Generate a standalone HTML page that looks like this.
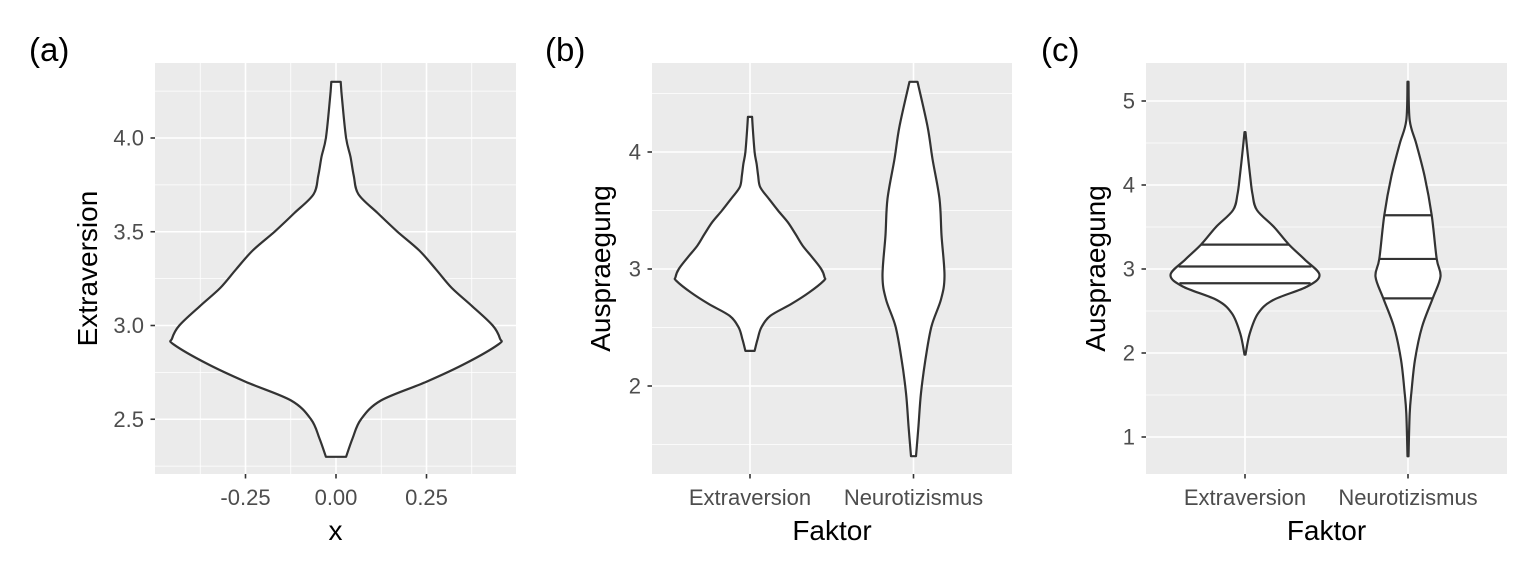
<!DOCTYPE html>
<html><head><meta charset="utf-8"><style>
body{margin:0;background:#fff;}
svg{display:block;font-family:"Liberation Sans",sans-serif;}
</style></head><body>
<svg id="s" width="1536" height="576" viewBox="0 0 1536 576"></svg>
<script>
// Panel (a): Extraversion violin
const aY=[4.3,4.2,4.0,3.9,3.8,3.7,3.6,3.5,3.4,3.3,3.2,3.1,3.0,2.93,2.9,2.8,2.7,2.6,2.5,2.4,2.3];
const aW=[0.013,0.017,0.028,0.04,0.049,0.062,0.115,0.17,0.23,0.276,0.32,0.378,0.433,0.453,0.449,0.36,0.25,0.124,0.069,0.046,0.028];
const aXTicks=[-0.25,0,0.25];
const aXLabels=["-0.25","0.00","0.25"];
const aYTicks=[2.5,3.0,3.5,4.0];
const aYLabels=["2.5","3.0","3.5","4.0"];
// Panel (b)
const categories=["Extraversion","Neurotizismus"];
const bNeuroY=[4.6,4.22,3.94,3.6,3.29,2.94,2.74,2.51,2.23,1.94,1.66,1.4];
const bNeuroPx=[4,14,19,26,28,31,27.5,18,12,7.5,5,2.5];
const bYTicks=[2,3,4];
// Panel (c)
const cExtY=[4.63,4.37,4.09,3.89,3.7,3.5,3.29,3.11,2.93,2.79,2.63,2.47,2.23,1.98];
const cExtPx=[0.5,2.7,5.3,7.5,12,29,44,60,74.5,62,28,13,4.7,0.5];
const cExtQ=[3.29,3.03,2.83];
const cNeuY=[5.23,4.77,4.49,4.1,3.64,3.12,2.91,2.65,2.31,1.92,1.52,1.28,0.77];
const cNeuPx=[0.5,1.7,8.3,16.7,23.7,28.7,32.5,24.7,14,7,3.3,1.7,0.5];
const cNeuQ=[3.64,3.12,2.65];
const cYTicks=[1,2,3,4,5];

const NS="http://www.w3.org/2000/svg";
const svg=document.getElementById('s');
function el(tag,attrs,parent){const e=document.createElementNS(NS,tag);for(const k in attrs)e.setAttribute(k,attrs[k]);(parent||svg).appendChild(e);return e;}
function txt(str,attrs,name){const t=el('text',attrs);t.textContent=str;


return t;}
function smooth(pts){
  let d='M'+pts[0][0].toFixed(1)+','+pts[0][1].toFixed(1);
  for(let i=0;i<pts.length-1;i++){
    const p0=pts[Math.max(0,i-1)],p1=pts[i],p2=pts[i+1],p3=pts[Math.min(pts.length-1,i+2)];
    const c1=[p1[0]+(p2[0]-p0[0])/6,p1[1]+(p2[1]-p0[1])/6];
    const c2=[p2[0]-(p3[0]-p1[0])/6,p2[1]-(p3[1]-p1[1])/6];
    d+=' C'+c1.map(v=>v.toFixed(1)).join(',')+' '+c2.map(v=>v.toFixed(1)).join(',')+' '+p2[0].toFixed(1)+','+p2[1].toFixed(1);
  }
  return d;
}

function panel(P){
  const g=el('g',{});
  
  
  const bg=el('rect',{x:P.x0,y:P.y0,width:P.x1-P.x0,height:P.y1-P.y0,fill:'#EBEBEB'},g);
  
  
  const sy=v=>P.yref+(P.vref-v)*P.ypu;
  const sx=v=>P.xref+(v-P.xvref)*P.xpu;
  (P.yMinor||[]).forEach(v=>{const l=el('line',{x1:P.x0,x2:P.x1,y1:sy(v),y2:sy(v),stroke:'#fff','stroke-width':0.8},g);
    });
  (P.xMinor||[]).forEach(v=>{const l=el('line',{y1:P.y0,y2:P.y1,x1:sx(v),x2:sx(v),stroke:'#fff','stroke-width':0.8},g);
    });
  P.yTicks.forEach((v,i)=>{const y=sy(v);
    const l=el('line',{x1:P.x0,x2:P.x1,y1:y,y2:y,stroke:'#fff','stroke-width':1.6},g);
    
    el('line',{x1:P.x0-4.5,x2:P.x0,y1:y,y2:y,stroke:'#333','stroke-width':1.6},g);
    txt(P.yLabels[i],{x:P.x0-11,y:y+7.5,'text-anchor':'end','font-size':22,fill:'#4D4D4D'},'y-tick-label');});
  P.xTicks.forEach((v,i)=>{const x=sx(v);
    const l=el('line',{y1:P.y0,y2:P.y1,x1:x,x2:x,stroke:'#fff','stroke-width':1.6},g);
    
    el('line',{y1:P.y1,y2:P.y1+4.5,x1:x,x2:x,stroke:'#333','stroke-width':1.6},g);
    txt(P.xLabels[i],{x:x,y:P.y1+31,'text-anchor':'middle','font-size':22,fill:'#4D4D4D'},'x-tick-label');});
  P.violins.forEach(V=>{
    const cx=sx(V.pos);
    const R=V.ys.map((y,i)=>[cx+V.ws[i],sy(y)]);
    const L=V.ys.map((y,i)=>[cx-V.ws[i],sy(y)]).reverse();
    const d=smooth(R)+' L'+L[0][0].toFixed(1)+','+L[0][1].toFixed(1)+' '+smooth(L).slice(1).replace(/^[^C]*/,'')+' Z';
    const p=el('path',{d:d,fill:'#fff',stroke:'#333','stroke-width':2.2,'stroke-linejoin':'round'},g);
    
    
    (V.q||[]).forEach(q=>{
      let w=0;for(let i=0;i<V.ys.length-1;i++){const a=V.ys[i],b=V.ys[i+1];if(q<=a&&q>=b){const t=(a-q)/(a-b);w=V.ws[i]+(V.ws[i+1]-V.ws[i])*t;}}
      const l=el('line',{x1:cx-w,x2:cx+w,y1:sy(q),y2:sy(q),stroke:'#333','stroke-width':2.2},g);
      
      
    });
  });
  txt(P.xTitle,{x:(P.x0+P.x1)/2,y:P.y1+66,'text-anchor':'middle','font-size':28,fill:'#000'},'x-axis-title');
  txt(P.yTitle,{x:0,y:0,'text-anchor':'middle','font-size':28,fill:'#000',transform:`translate(${P.ytx},${(P.y0+P.y1)/2}) rotate(-90)`},'y-axis-title');
  txt(P.tag,{x:P.tagx,y:61,'font-size':33,fill:'#000'},'panel-label');
}

const aPx=362;
panel({name:'panel-a',tag:'(a)',tagx:29,x0:155,x1:516,y0:63,y1:474,yref:325.5,vref:3.0,ypu:187.5,xref:336,xvref:0,xpu:aPx,
  yTicks:aYTicks,yLabels:aYLabels,xTicks:aXTicks,xLabels:aXLabels,yMinor:[2.25,2.75,3.25,3.75,4.25],xMinor:[-0.375,-0.125,0.125,0.375],
  xTitle:'x',yTitle:'Extraversion',ytx:97,
  violins:[{pos:0,ys:aY,ws:aW.map(w=>w*aPx),label:'extraversion'}]});
const bPx=163.5;
panel({name:'panel-b',tag:'(b)',tagx:545,x0:652,x1:1012,y0:63,y1:474,yref:269,vref:3,ypu:117,xref:750,xvref:1,xpu:bPx,
  yTicks:bYTicks,yLabels:bYTicks.map(String),xTicks:[1,2],xLabels:categories,yMinor:[1.5,2.5,3.5,4.5],
  xTitle:'Faktor',yTitle:'Auspraegung',ytx:610,
  violins:[{pos:1,ys:aY,ws:aW.map(w=>w*74.5/0.453),label:'extraversion'},{pos:2,ys:bNeuroY,ws:bNeuroPx,label:'neurotizismus'}]});
panel({name:'panel-c',tag:'(c)',tagx:1041,x0:1146,x1:1507,y0:63,y1:474,yref:269,vref:3,ypu:84,xref:1245,xvref:1,xpu:163,
  yTicks:cYTicks,yLabels:cYTicks.map(String),xTicks:[1,2],xLabels:categories,yMinor:[1.5,2.5,3.5,4.5],
  xTitle:'Faktor',yTitle:'Auspraegung',ytx:1105,
  violins:[{pos:1,ys:cExtY,ws:cExtPx,q:cExtQ,label:'extraversion'},{pos:2,ys:cNeuY,ws:cNeuPx,q:cNeuQ,label:'neurotizismus'}]});
</script>
</body></html>
